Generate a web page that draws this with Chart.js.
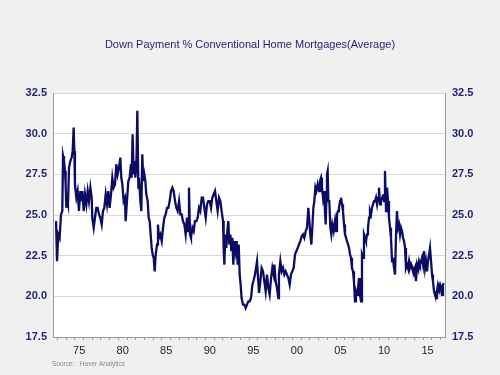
<!DOCTYPE html>
<html>
<head>
<meta charset="utf-8">
<script src="https://cdn.jsdelivr.net/npm/chart.js@4"></script>
<style>
  html, body { margin: 0; padding: 0; background: #f0f0f0; }
  #wrap { width: 500px; height: 375px; }
</style>
</head>
<body>
<div id="wrap"><canvas id="c" width="500" height="375"></canvas></div>
<script>
// ---- data (decimal year, average down payment %) ----
const dates = [
  1972.85,1972.96,1973.11,1973.26,1973.42,1973.57,1973.65,1973.76,1973.88,1973.95,
  1974.03,1974.14,1974.22,1974.34,1974.49,1974.64,1974.76,1974.87,1974.95,1975.02,
  1975.18,1975.33,1975.48,1975.64,1975.75,1975.87,1976.02,1976.17,1976.33,1976.48,
  1976.63,1976.79,1976.94,1977.01,1977.17,1977.32,1977.47,1977.63,1977.78,1977.93,
  1978.09,1978.24,1978.39,1978.55,1978.7,1978.85,1979.0,1979.16,1979.31,1979.46,
  1979.62,1979.77,1979.92,1980.08,1980.23,1980.34,1980.46,1980.61,1980.76,1980.84,
  1980.99,1981.15,1981.3,1981.45,1981.53,1981.64,1981.76,1981.84,1981.95,1982.07,
  1982.18,1982.3,1982.37,1982.53,1982.64,1982.75,1982.87,1982.98,1983.1,1983.21,
  1983.37,1983.48,1983.6,1983.71,1983.83,1983.94,1984.06,1984.17,1984.29,1984.44,
  1984.55,1984.67,1984.82,1984.98,1985.13,1985.28,1985.43,1985.59,1985.74,1985.89,
  1986.05,1986.2,1986.35,1986.51,1986.66,1986.81,1986.97,1987.12,1987.27,1987.42,
  1987.58,1987.73,1987.88,1988.0,1988.11,1988.23,1988.34,1988.5,1988.65,1988.8,
  1988.96,1989.11,1989.26,1989.41,1989.57,1989.72,1989.87,1990.03,1990.18,1990.33,
  1990.49,1990.64,1990.79,1990.95,1991.1,1991.25,1991.4,1991.56,1991.71,1991.86,
  1992.02,1992.09,1992.17,1992.28,1992.4,1992.51,1992.63,1992.74,1992.86,1992.97,
  1993.09,1993.2,1993.32,1993.47,1993.59,1993.7,1993.82,1993.93,1994.04,1994.15,
  1994.31,1994.46,1994.62,1994.77,1994.92,1995.08,1995.23,1995.39,1995.5,1995.69,
  1995.92,1996.15,1996.3,1996.45,1996.61,1996.76,1996.91,1997.07,1997.22,1997.37,
  1997.53,1997.68,1997.83,1997.91,1998.06,1998.21,1998.37,1998.44,1998.6,1998.75,
  1998.9,1999.06,1999.21,1999.36,1999.52,1999.67,1999.82,1999.97,2000.13,2000.28,
  2000.43,2000.59,2000.74,2000.89,2001.05,2001.2,2001.35,2001.51,2001.66,2001.81,
  2001.93,2002.04,2002.16,2002.27,2002.39,2002.5,2002.62,2002.73,2002.88,2003.04,
  2003.15,2003.27,2003.38,2003.5,2003.61,2003.72,2003.8,2003.88,2003.95,2004.03,
  2004.11,2004.22,2004.34,2004.45,2004.57,2004.72,2004.87,2004.99,2005.1,2005.22,
  2005.33,2005.45,2005.56,2005.68,2005.79,2005.91,2006.02,2006.14,2006.25,2006.37,
  2006.48,2006.6,2006.71,2006.82,2006.94,2007.05,2007.17,2007.28,2007.4,2007.51,
  2007.63,2007.74,2007.86,2007.97,2008.09,2008.2,2008.32,2008.43,2008.55,2008.66,
  2008.78,2008.89,2009.01,2009.12,2009.24,2009.35,2009.47,2009.58,2009.7,2009.81,
  2009.92,2010.04,2010.15,2010.27,2010.38,2010.5,2010.61,2010.73,2010.84,2010.96,
  2011.07,2011.19,2011.3,2011.42,2011.53,2011.65,2011.76,2011.88,2011.99,2012.11,
  2012.22,2012.34,2012.45,2012.57,2012.68,2012.8,2012.91,2013.02,2013.14,2013.25,
  2013.37,2013.48,2013.6,2013.71,2013.83,2013.94,2014.06,2014.17,2014.29,2014.4,
  2014.52,2014.63,2014.75,2014.86,2014.98,2015.09,2015.21,2015.32,2015.44,2015.55,
  2015.67,2015.78,2015.9,2016.01,2016.12,2016.24,2016.35,2016.47,2016.58,2016.7,
  2016.81,2016.93,2017.04,2017.16,2017.27,2017.35
];
const values = [
  24.63,22.16,23.81,23.6,25.04,25.25,28.64,28.33,27.72,26.89,
  25.45,25.86,25.66,27.92,28.33,28.54,28.95,30.39,28.95,26.89,
  26.07,26.48,25.25,26.48,25.86,26.48,25.25,26.28,25.66,26.48,
  25.86,26.69,26.07,24.84,24.22,24.84,25.45,25.45,25.04,24.84,
  24.42,25.25,25.45,26.28,25.66,26.48,25.45,26.28,27.3,26.69,
  26.89,28.13,27.51,27.92,28.54,27.3,26.89,25.86,26.07,24.63,
  25.86,27.1,27.3,28.13,27.3,29.98,27.51,28.33,27.3,27.92,
  31.42,26.69,27.3,25.86,25.25,28.74,27.1,27.51,27.1,26.28,
  25.86,24.84,24.63,23.81,22.98,22.57,22.37,21.54,22.57,23.19,
  24.42,23.6,23.81,23.4,24.22,24.84,25.04,25.45,25.45,25.86,
  26.48,26.69,26.48,25.86,25.45,25.25,25.86,25.04,25.04,24.63,
  24.42,23.81,24.84,24.01,26.69,23.81,23.6,24.22,24.01,24.63,
  24.63,24.84,25.45,25.25,26.07,26.07,25.45,24.84,25.66,25.86,
  25.86,25.45,26.07,26.28,26.48,25.86,25.25,26.07,25.86,25.25,
  24.63,22.98,21.95,23.81,22.98,24.01,24.63,23.19,23.81,22.78,
  23.6,21.95,23.4,22.78,23.4,21.95,23.19,21.34,20.72,19.9,
  19.49,19.49,19.28,19.49,19.69,19.69,19.9,20.72,20.93,21.34,
  22.16,20.21,20.93,21.75,21.54,20.93,20.31,21.34,20.51,20.1,
  21.13,21.75,21.34,21.95,20.93,20.51,19.9,21.34,22.16,21.54,
  21.75,21.34,21.54,21.34,21.13,20.72,21.34,21.54,21.75,22.57,
  22.78,22.98,23.19,23.4,23.7,23.81,23.6,24.01,24.22,25.45,
  24.63,23.81,23.19,24.22,25.45,25.86,26.69,26.48,26.89,26.48,
  27.1,27.3,26.69,26.07,26.48,25.25,24.42,25.86,27.51,27.72,
  25.86,25.86,24.22,23.81,24.42,24.01,24.63,24.01,25.04,25.25,
  25.45,25.86,26.07,25.66,25.25,24.42,23.81,23.6,23.4,23.19,
  22.98,22.57,22.37,21.75,21.54,20.93,19.69,20.31,20.1,20.51,
  21.13,20.1,19.69,22.57,22.37,23.81,23.6,23.4,23.81,24.22,
  24.84,25.25,25.04,25.45,25.66,25.86,25.86,26.07,25.66,26.07,
  26.69,25.66,25.86,26.07,26.28,25.86,27.72,25.25,26.69,25.86,
  24.84,24.22,23.6,22.16,22.37,21.75,21.34,23.81,25.25,24.22,
  24.42,23.81,24.22,24.01,23.6,23.4,22.98,21.75,21.95,21.75,
  22.16,21.75,21.95,21.75,21.75,21.54,21.75,20.93,21.95,21.75,
  22.16,21.95,22.16,22.37,21.95,22.78,21.75,22.16,21.54,22.16,
  22.57,22.98,22.16,21.34,20.93,20.31,20.1,19.9,20.31,20.72,
  20.51,20.72,20.51,20.1,20.72,20.82
];
const yTicks = [17.5, 20.0, 22.5, 25.0, 27.5, 30.0, 32.5];
const xLabelYears = [1975, 1980, 1985, 1990, 1995, 2000, 2005, 2010, 2015];
const titleText = 'Down Payment % Conventional Home Mortgages(Average)';
const sourceText = 'Source:   Haver Analytics';

const FONT = "'Liberation Sans', Arial, Helvetica, sans-serif";
const NAVY = '#1f1f78';

const bgPlugin = {
  id: 'bg',
  beforeDraw(chart) {
    const { ctx, chartArea: a } = chart;
    ctx.save();
    ctx.fillStyle = '#f0f0f0';
    ctx.fillRect(0, 0, chart.width, chart.height);
    ctx.fillStyle = '#ffffff';
    ctx.fillRect(a.left, a.top, a.right - a.left, a.bottom - a.top);
    ctx.restore();
  },
  afterDraw(chart) {
    const { ctx } = chart;
    ctx.save();
    ctx.font = '6.5px ' + FONT;
    ctx.fillStyle = '#8a8a8a';
    ctx.textBaseline = 'middle';
    ctx.fillText(sourceText, 52, 364);
    ctx.restore();
  }
};

const points = dates.map((d, i) => ({ x: d, y: values[i] }));

new Chart(document.getElementById('c'), {
  type: 'line',
  data: {
    datasets: [{
      data: points,
      borderColor: '#0c0c64',
      borderWidth: 2.3,
      pointRadius: 0,
      tension: 0,
      yAxisID: 'y'
    }]
  },
  options: {
    responsive: false,
    animation: false,
    layout: { padding: { left: 0, right: 0, top: 0, bottom: 0 } },
    plugins: {
      legend: { display: false },
      tooltip: { enabled: false },
      title: {
        display: true,
        text: titleText,
        color: NAVY,
        font: { family: FONT, size: 11, weight: 'normal' },
        padding: { top: 38, bottom: 42 }
      }
    },
    scales: {
      x: {
        type: 'linear',
        min: 1972.5,
        max: 2017.5,
        afterBuildTicks(scale) {
          const t = [];
          for (let yr = 1973; yr <= 2017; yr++) t.push({ value: yr });
          scale.ticks = t;
        },
        afterFit(scale) { scale.height = 38; },
        ticks: {
          autoSkip: false,
          maxRotation: 0,
          labelOffset: 4.35,
          padding: 4,
          color: '#222222',
          font: { family: FONT, size: 11 },
          callback(v) {
            return xLabelYears.includes(v) ? String(v % 100).padStart(2, '0') : '';
          }
        },
        grid: { drawOnChartArea: false, drawTicks: true, tickLength: 3, tickColor: '#999999' },
        border: { display: true, color: '#9a9a9a', width: 1 }
      },
      y: {
        position: 'left',
        min: 17.5,
        max: 32.5,
        afterBuildTicks(scale) { scale.ticks = yTicks.map(v => ({ value: v })); },
        afterFit(scale) { scale.width = 53; },
        ticks: {
          padding: 6,
          color: NAVY,
          font: { family: FONT, size: 11, weight: 'bold' },
          callback(v) { return Number(v).toFixed(1); }
        },
        grid: { color: '#d9d9d9', lineWidth: 1, drawTicks: false },
        border: { display: true, color: '#9a9a9a', width: 1 }
      },
      y2: {
        position: 'right',
        min: 17.5,
        max: 32.5,
        afterBuildTicks(scale) { scale.ticks = yTicks.map(v => ({ value: v })); },
        afterFit(scale) { scale.width = 55; },
        ticks: {
          padding: 7,
          color: NAVY,
          font: { family: FONT, size: 11, weight: 'bold' },
          callback(v) { return Number(v).toFixed(1); }
        },
        grid: { drawOnChartArea: false, drawTicks: false },
        border: { display: true, color: '#9a9a9a', width: 1 }
      }
    }
  },
  plugins: [bgPlugin]
});
</script>
</body>
</html>
